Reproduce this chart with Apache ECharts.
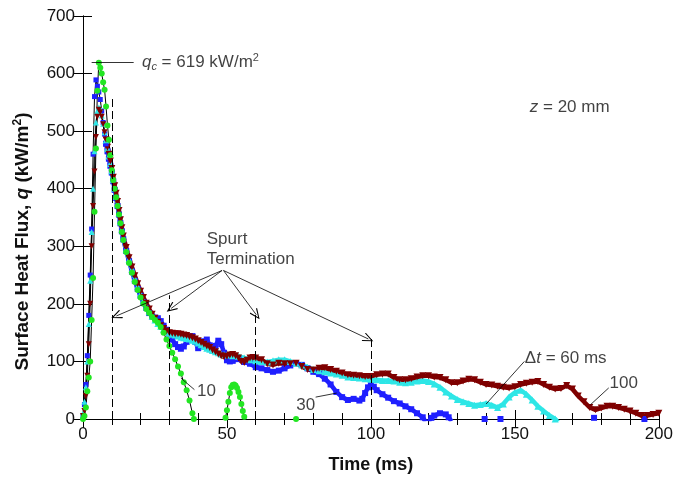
<!DOCTYPE html>
<html>
<head>
<meta charset="utf-8">
<script src="https://cdn.jsdelivr.net/npm/echarts@6/dist/echarts.min.js"></script>
<style>
  html, body { margin: 0; padding: 0; background: #fff; }
  #chart { width: 676px; height: 479px; }
</style>
</head>
<body>
<div id="chart"></div>
<script>
// tick labels
const xTicks = [0, 50, 100, 150, 200];
const yTicks = [0, 100, 200, 300, 400, 500, 600, 700];

// spurt duration 10 ms (green)
const dt10 = [
  [0, 0], [0.5, 5], [1, 20], [1.5, 48], [2, 72], [2.5, 100], [3, 172], [3.5, 245], [4, 360], [4.5, 470],
  [5, 570], [5.5, 619], [6, 610], [6.5, 600], [7, 585], [7.5, 572], [8, 543], [8.5, 510], [9, 485], [9.5, 458],
  [10, 432], [10.5, 415], [11, 400], [11.5, 385], [12, 370], [12.5, 355], [13, 340], [13.5, 325], [14, 311],
  [15, 290], [16, 271], [17, 254], [18, 238], [19, 224], [20, 211], [21, 200], [22, 191], [23, 184], [24, 177],
  [25, 172], [26, 167], [27, 160], [28, 150], [29, 138], [30, 127], [31, 115], [32, 104], [33, 91], [34, 79],
  [35, 64], [36, 50], [37, 32], [38, 10], [38.5, 0], [39, -8], [39.5, "-"],
  [49, -5], [49.5, 2], [50, 15], [50.5, 30], [51, 45], [51.5, 55], [52, 59], [52.5, 60], [53, 58], [53.5, 54],
  [54, 47], [54.5, 38], [55, 26], [55.5, 14], [56, 4], [56.5, -6], [57, "-"],
  [74, 0]
];

// spurt duration 30 ms (blue)
const dt30 = [
  [0, 5], [0.5, 25], [1, 60], [1.5, 110], [2, 180], [2.5, 250], [3, 330], [3.5, 460], [4, 560], [4.5, 589],
  [5, 578], [5.5, 568], [6, 555], [6.5, 535], [7, 515], [7.5, 495], [8, 478], [8.5, 465], [9, 452], [9.5, 440],
  [10, 428], [10.5, 413], [11, 398], [11.5, 384], [12, 370], [12.5, 355], [13, 340], [13.5, 326], [14, 312],
  [15, 292], [16, 274], [17, 256], [18, 240], [19, 226], [20, 214], [21, 203], [22, 193], [23, 184], [24, 178],
  [25, 176], [26, 175], [27, 170], [28, 162], [29, 155], [30, 148], [31, 138], [32, 130], [33, 125], [34, 122],
  [35, 126], [36, 134], [37, 141], [38, 144], [39, 134], [40, 123], [41, 126], [42, 135], [43, 138], [44, 128],
  [45, 119], [46, 127], [47, 136], [48, 130], [49, 115], [50, 102], [51, 100], [52, 101], [54, 104], [56, 99],
  [58, 96], [60, 90], [62, 88], [64, 85], [66, 82], [68, 84], [70, 88], [72, 93], [74, 97], [76, 94], [78, 88],
  [80, 82], [82, 78], [84, 70], [86, 60], [88, 47], [90, 38], [92, 33], [94, 35], [96, 32], [97, 35], [98, 45],
  [99, 55], [100, 59], [101, 56], [102, 50], [104, 43], [106, 37], [108, 31], [110, 27], [112, 22], [114, 17],
  [116, 10], [118, 3], [119, -5], [119.5, "-"],
  [120, -5], [121, 2], [122, 6], [124, 10], [126, 8], [127, 3], [128, -4], [128.5, "-"],
  [139.5, 0], [140, "-"], [145, 0], [146, "-"], [177.5, 2], [178, "-"], [195, 0]
];

// spurt duration 60 ms (cyan)
const dt60 = [
  [0, 10], [0.5, 30], [1, 55], [1.5, 100], [2, 165], [2.5, 240], [3, 325], [3.5, 400], [4, 465], [4.5, 515],
  [5, 535], [5.5, 541], [6, 540], [6.5, 527], [7, 513], [7.5, 498], [8, 484], [8.5, 470], [9, 457], [9.5, 444],
  [10, 431], [10.5, 416], [11, 401], [11.5, 387], [12, 373], [12.5, 358], [13, 343], [13.5, 329], [14, 315],
  [15, 295], [16, 277], [17, 260], [18, 244], [19, 230], [20, 217], [21, 206], [22, 196], [23, 187], [24, 179],
  [25, 172], [26, 166], [27, 161], [28, 156], [29, 152], [30, 149], [31, 147], [32, 146], [33, 144], [34, 142],
  [35, 141], [36, 140], [37, 139], [38, 137], [39, 135], [40, 132], [41, 129], [42, 126], [43, 123], [44, 121],
  [45, 119], [46, 117], [47, 115], [48, 113], [49, 112], [50, 111], [52, 110], [54, 109], [56, 106], [58, 103],
  [60, 101], [62, 100], [64, 99], [66, 101], [68, 103], [70, 103], [72, 100], [74, 97], [76, 94], [78, 90],
  [80, 86], [82, 84], [84, 82], [86, 80], [88, 78], [90, 76], [92, 73], [94, 72], [96, 71], [98, 70], [100, 69],
  [102, 68], [104, 67], [106, 67], [108, 66], [110, 64], [112, 63], [114, 64], [116, 66], [118, 67], [120, 65],
  [122, 61], [124, 55], [126, 47], [128, 40], [130, 34], [132, 30], [134, 27], [136, 24], [138, 25], [140, 27],
  [142, 24], [144, 20], [146, 26], [148, 38], [150, 46], [152, 50], [154, 43], [156, 33], [158, 22], [160, 14],
  [162, 6], [164, 0], [165, -6]
];

// spurt duration 100 ms (dark red)
const dt100 = [
  [0, 5], [0.5, 14], [1, 40], [1.5, 75], [2, 130], [2.5, 200], [3, 300], [3.5, 370], [4, 430], [4.5, 490],
  [5, 525], [5.5, 537], [6, 533], [6.5, 525], [7, 512], [7.5, 498], [8, 485], [8.5, 472], [9, 460], [9.5, 448],
  [10, 435], [10.5, 420], [11, 405], [11.5, 392], [12, 378], [12.5, 362], [13, 346], [13.5, 332], [14, 318],
  [15, 298], [16, 280], [17, 264], [18, 249], [19, 235], [20, 222], [21, 211], [22, 201], [23, 191], [24, 182],
  [25, 175], [26, 168], [27, 162], [28, 157], [29, 153], [30, 150], [31, 149], [32, 148], [33, 148], [34, 147],
  [35, 146], [36, 145], [37, 143], [38, 141], [39, 139], [40, 136], [41, 133], [42, 130], [43, 127], [44, 124],
  [45, 120], [46, 117], [47, 113], [48, 110], [49, 108], [50, 109], [51, 111], [52, 112], [53, 110], [54, 106],
  [55, 100], [56, 98], [57, 102], [58, 106], [59, 107], [60, 106], [62, 103], [64, 96], [66, 94], [68, 97],
  [70, 96], [72, 96], [74, 97], [76, 91], [78, 86], [80, 85], [82, 88], [84, 89], [86, 86], [88, 83], [90, 80],
  [92, 77], [94, 76], [96, 75], [98, 74], [100, 74], [102, 77], [104, 78], [106, 78], [108, 72], [110, 68],
  [112, 68], [114, 70], [116, 73], [118, 75], [120, 75], [122, 73], [124, 72], [126, 68], [128, 63], [130, 63],
  [132, 66], [134, 69], [136, 68], [138, 64], [140, 60], [142, 59], [144, 57], [146, 55], [148, 54], [150, 56],
  [152, 60], [154, 62], [156, 64], [158, 65], [160, 60], [162, 55], [164, 52], [166, 53], [168, 58], [170, 52],
  [172, 40], [174, 30], [176, 20], [178, 16], [180, 19], [182, 22], [184, 22], [186, 20], [188, 17], [190, 14],
  [192, 10], [194, 6], [196, 6], [198, 8], [200, 10]
];

const FONT = "Liberation Sans";
const INK = "#111";
const rich = {
  n: { fontSize: 17, fontFamily: FONT, color: INK },
  i: { fontSize: 17, fontFamily: FONT, color: INK, fontStyle: "italic" },
  sub: { fontSize: 11, fontFamily: FONT, color: INK, fontStyle: "italic", padding: [9, 0, 0, 0] },
  sup: { fontSize: 11, fontFamily: FONT, color: INK, padding: [0, 0, 9, 0] },
  sp: { fontSize: 17, fontFamily: FONT, color: INK, lineHeight: 20 },
};

// open arrow head, tip on top
const arrowHead = "path://M5,0L10,10L9,10.8L5,2.4L1,10.8L0,10Z";

// rise part: thin black line with markers; after it the markers merge into a band
const head = (d) => d.filter((p) => p[0] <= 8);
const tail = (d) => d.filter((p) => p[0] >= 8);

const lineSeries = (name, data, color, symbol, size, rotate, band) => ({
  name: name,
  type: "line",
  data: data,
  symbol: symbol,
  symbolSize: size,
  symbolRotate: rotate || 0,
  showSymbol: true,
  connectNulls: false,
  clip: true,
  lineStyle: band ? { color: color, width: 4.5 } : { color: "#000", width: 1 },
  itemStyle: { color: color, borderWidth: 0 },
  emphasis: { disabled: true },
  silent: true,
  z: 3,
});

const markBase = {
  silent: true,
  animation: false,
  label: { show: false },
  emphasis: { disabled: true },
};

const axisCommon = {
  type: "value",
  axisLine: { show: true, lineStyle: { color: "#000", width: 1 } },
  splitLine: { show: false },
};

const options = {
  animation: false,
  backgroundColor: "#fff",
  grid: { left: 83, right: 13, top: 16, bottom: 57 },
  xAxis: [
    {
      ...axisCommon,
      position: "bottom",
      min: 0,
      max: 200,
      interval: 50,
      axisTick: { inside: true, length: 9, lineStyle: { color: "#000" } },
      minorTick: { show: true, splitNumber: 5, length: 6, lineStyle: { color: "#000" } },
      axisLabel: {
        fontSize: 17, fontFamily: FONT, color: INK, margin: 7,
        formatter: (v) => (xTicks.includes(v) ? String(v) : ""),
      },
      name: "Time (ms)",
      nameLocation: "middle",
      nameGap: 37,
      nameTextStyle: { fontSize: 18, fontWeight: "bold", fontFamily: FONT, color: INK },
    },
    {
      ...axisCommon,
      position: "top",
      min: 0,
      max: 200,
      interval: 50,
      axisTick: { inside: true, length: 9, lineStyle: { color: "#000" } },
      minorTick: { show: true, splitNumber: 5, length: 6, lineStyle: { color: "#000" } },
      axisLabel: { show: false },
    },
  ],
  yAxis: [
    {
      ...axisCommon,
      position: "left",
      min: 0,
      max: 700,
      interval: 100,
      axisTick: { inside: true, length: 9, lineStyle: { color: "#000" } },
      axisLabel: {
        fontSize: 17, fontFamily: FONT, color: INK, margin: 8,
        formatter: (v) => (yTicks.includes(v) ? String(v) : ""),
      },
      name: "{b|Surface Heat Flux, }{bi|q}{b| (kW/m}{bs|2}{b|)}",
      nameLocation: "middle",
      nameGap: 50,
      nameTextStyle: {
        padding: [0, 48, 0, 0],
        rich: {
          b: { fontSize: 19, fontWeight: "bold", fontFamily: FONT, color: INK },
          bi: { fontSize: 19, fontWeight: "bold", fontStyle: "italic", fontFamily: FONT, color: INK },
          bs: { fontSize: 12, fontWeight: "bold", fontFamily: FONT, color: INK, padding: [0, 0, 9, 0] },
        },
      },
    },
    {
      ...axisCommon,
      position: "right",
      min: 0,
      max: 700,
      interval: 100,
      axisTick: { inside: true, length: 9, lineStyle: { color: "#000" } },
      axisLabel: { show: false },
    },
  ],
  series: [
    lineSeries("30 ms band", tail(dt30), "#1f1fff", "rect", 6, 0, true),
    lineSeries("60 ms band", tail(dt60), "#2ee6e6", "triangle", 7, 0, true),
    lineSeries("100 ms band", tail(dt100), "#7f0000", "triangle", 7, 180, true),
    {
      ...lineSeries("30 ms", head(dt30), "#1f1fff", "rect", 5),
      markLine: {
        ...markBase,
        symbol: ["none", arrowHead],
        symbolSize: [9, 11],
        lineStyle: { color: "#000", width: 0.8, type: "solid" },
        data: [
          [{ coord: [48.3, 258] }, { coord: [11.6, 179] }],
          [{ coord: [48.3, 258] }, { coord: [30.6, 192] }],
          [{ coord: [48.8, 258] }, { coord: [60.2, 181] }],
          [{ coord: [48.8, 258] }, { coord: [99.1, 139] }],
        ],
      },
    },
    {
      ...lineSeries("60 ms", head(dt60), "#2ee6e6", "triangle", 6),
      markLine: {
        ...markBase,
        symbol: ["none", "none"],
        lineStyle: { color: "#000", width: 0.8, type: "solid" },
        data: [
          [{ coord: [3, 619] }, { coord: [17.6, 619] }],
          [{ coord: [34.0, 71] }, { coord: [38.7, 51] }],
          [{ coord: [80.8, 38] }, { coord: [88.1, 45] }],
          [{ coord: [153.3, 100] }, { coord: [140, 26] }],
          [{ coord: [182.6, 54] }, { coord: [176.3, 25] }],
        ],
      },
    },
    lineSeries("100 ms", head(dt100), "#7f0000", "triangle", 6, 180),
    {
      ...lineSeries("10 ms", dt10, "#22e622", "circle", 6),
      markLine: {
        ...markBase,
        symbol: ["none", "none"],
        lineStyle: { color: "#000", width: 1, type: [8, 4] },
        data: [
          [{ coord: [10, 0] }, { coord: [10, 558] }],
          [{ coord: [30, 0] }, { coord: [30, 215] }],
          [{ coord: [60, 0] }, { coord: [60, 183] }],
          [{ coord: [100, 0] }, { coord: [100, 141] }],
        ],
      },
    },
    {
      // text notes
      name: "notes",
      type: "scatter",
      symbolSize: 1,
      itemStyle: { color: "rgba(0,0,0,0)" },
      silent: true,
      z: 5,
      label: { show: true, position: "right", distance: 0, rich: rich },
      data: [
        { value: [20.3, 619], label: { formatter: "{i|q}{sub|c}{n| = 619 kW/m}{sup|2}" } },
        { value: [155, 541], label: { formatter: "{i|z}{n| = 20 mm}" } },
        { value: [42.8, 294], label: { formatter: "{sp|Spurt}\n{sp|Termination}" } },
        { value: [39.4, 48], label: { formatter: "{n|10}" } },
        { value: [73.9, 24], label: { formatter: "{n|30}" } },
        { value: [153.3, 105], label: { formatter: "{n|Δ}{i|t}{n| = 60 ms}" } },
        { value: [182.7, 62], label: { formatter: "{n|100}" } },
      ],
    },
  ],
};

const chart = echarts.init(document.getElementById("chart"), null, { renderer: "canvas" });
chart.setOption(options);
</script>
</body>
</html>
